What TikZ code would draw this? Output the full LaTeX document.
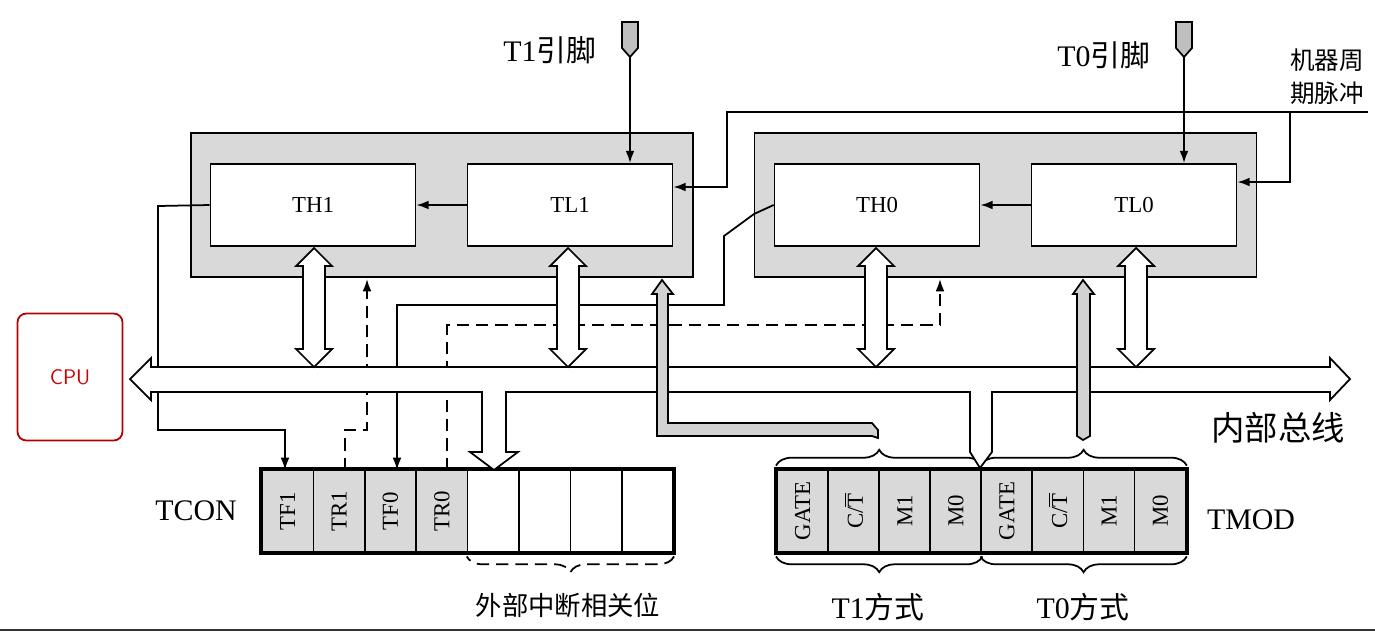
\documentclass[tikz,border=0pt]{standalone}
\usepackage{fontspec}
\setmainfont{Liberation Serif}
\newfontfamily\cjk{Noto Sans CJK SC}
\usetikzlibrary{arrows.meta,decorations.pathreplacing}

% hollow double arrow between two heights
\newcommand\dblarr[3]{\draw[fill=white] (#1-11,#2+18) -- (#1-18,#2+18) -- (#1,#2) -- (#1+18,#2+18) -- (#1+11,#2+18) -- (#1+11,#3-18) -- (#1+18,#3-18) -- (#1,#3) -- (#1-18,#3-18) -- (#1-11,#3-18) -- cycle;}

\begin{document}
\begin{tikzpicture}[x=0.02cm,y=-0.02cm,line width=1pt,
  reg/.style={draw,fill=white,minimum width=4.1cm,minimum height=1.64cm,inner sep=0pt,font=\fontsize{13}{13}\selectfont},
  blk/.style={draw,fill=gray!30,minimum width=10.04cm,minimum height=2.88cm,inner sep=0pt},
  cell/.style={draw,minimum width=1.028cm,minimum height=1.64cm,inner sep=0pt},
  bit/.style={rotate=90,font=\fontsize{13}{13}\selectfont},
  sig/.style={-{Latex[length=7pt,width=5pt]}},
  dsig/.style={sig,dash pattern=on 7pt off 4pt},
  lab/.style={font=\fontsize{17}{17}\selectfont}]
\useasboundingbox (0,0) rectangle (1375,633);
\fill[white] (0,0) rectangle (1375,633);
\draw[black!80,line width=1.5pt] (0,630) -- (1375,630);

% timer blocks
\node[blk] (T1box) at (442,205) {};
\node[blk] (T0box) at (1005.5,205) {};
\node[reg] (TH1) at (313,205) {TH1};
\node[reg] (TL1) at (570,205) {TL1};
\node[reg] (TH0) at (877,205) {TH0};
\node[reg] (TL0) at (1134,205) {TL0};
\draw[sig] (TL1) -- (TH1);
\draw[sig] (TL0) -- (TH0);

% pins
\draw[fill=gray!50] (622,22) -- (638,22) -- (638,48) -- (630,57) -- (622,48) -- cycle;
\draw[fill=gray!50] (1176,22) -- (1192,22) -- (1192,48) -- (1184,57) -- (1176,48) -- cycle;
\coordinate (p1) at (630,57);
\coordinate (p0) at (1184,57);
\draw[sig] (p1) -- (p1 |- TL1.north);
\draw[sig] (p0) -- (p0 |- TL0.north);
\node[lab,anchor=east] (p1lab) at (603,50) {T1{\cjk 引脚}};
\node[lab,anchor=east] (p0lab) at (1157,55) {T0{\cjk 引脚}};

% machine cycle
\node[align=center,font=\cjk\fontsize{14}{19}\selectfont] (mc) at (1327,77) {机器周\\期脉冲};
\coordinate (mcin) at (1368,112);
\draw[sig] (mcin) -- (727,112) -- (727,187) -- (TL1.east |- {(0,187)});
\draw[sig] (1290,112) -- (1290,182) -- (TL0.east |- {(0,182)});

% registers
\foreach \n [count=\i] in {TF1,TR1,TF0,TR0,,,,}{
  \pgfmathsetmacro\xx{262+51.4*(\i-0.5)}
  \ifnum\i<5 \node[cell,fill=gray!30] (c\i) at (\xx,511) {}; \node[bit] at (c\i) {\n};
  \else \node[cell,fill=white] (c\i) at (\xx,511) {}; \fi
}
\draw[line width=2.2pt] (c1.north west) rectangle (c8.south east);
\foreach \n [count=\i] in {GATE,C/$\overline{\mathrm{T}}$,M1,M0,GATE,C/$\overline{\mathrm{T}}$,M1,M0}{
  \pgfmathsetmacro\xx{777+51.1*(\i-0.5)}
  \node[cell,fill=gray!30] (m\i) at (\xx,511) {};
  \node[bit] at (m\i) {\n};
}
\draw[line width=2.2pt] (m1.north west) rectangle (m8.south east);
\node[lab] (tcon) at (196,511) {TCON};
\node[lab] (tmod) at (1251,520) {TMOD};

% braces
\draw[decorate,decoration={brace,amplitude=9pt}] ([yshift=2]m1.north west) -- ([yshift=2]m4.north east);
\draw[decorate,decoration={brace,amplitude=9pt}] ([yshift=2]m5.north west) -- ([yshift=2]m8.north east);
\draw[decorate,decoration={brace,amplitude=9pt}] ([yshift=-2]m4.south east) -- ([yshift=-2]m1.south west);
\draw[decorate,decoration={brace,amplitude=9pt}] ([yshift=-2]m8.south east) -- ([yshift=-2]m5.south west);
\draw[decorate,decoration={brace,amplitude=9pt},dash pattern=on 7pt off 4pt] ([yshift=-2]c8.south east) -- ([yshift=-2]c5.south west);
\node[lab] (m1lab) at (878,607) {T1{\cjk 方式}};
\node[lab] (m0lab) at (1083,607) {T0{\cjk 方式}};
\node[font=\cjk\fontsize{15}{15}\selectfont] (ext) at (568,605) {外部中断相关位};

% control lines
\draw[sig] (TH1.west) -- (158,206) -- (158,430) -- (285,430) -- (285,470);
\draw[dsig] (345,470) -- (345,430) -- (367,430) -- (367,279);
\draw[sig] (TH0.west) -- (754,214) -- (724,236) -- (724,305) -- (397,305) -- (397,470);
\draw[dsig] (447,470) -- (447,325) -- (940,325) -- (940,279);

% internal bus
\draw[fill=white] (130,379) -- (151,358) -- (151,367) -- (1330,367) -- (1330,358) -- (1350,379)
  -- (1330,400) -- (1330,392) -- (992,392) -- (992,452) -- (980,468) -- (970,452) -- (970,392)
  -- (506,392) -- (506,452) -- (518,452) -- (494,470) -- (470,452) -- (482,452) -- (482,392)
  -- (151,392) -- (151,400) -- cycle;
\node[font=\cjk\fontsize{19}{19}\selectfont] (bus) at (1278,428) {内部总线};

% data paths
\dblarr{314}{248}{367}
\dblarr{568}{248}{367}
\dblarr{876}{248}{367}
\dblarr{1136}{248}{367}
\draw[fill=gray!35] (652,294) -- (662,280) -- (673,294) -- (668,294) -- (668,423) -- (872,423)
  -- (878,430) -- (878,438) -- (872,436) -- (657,436) -- (657,294) -- cycle;
\draw[fill=gray!35] (1073,294) -- (1083,280) -- (1094,294) -- (1090,294) -- (1090,436) -- (1083,440) -- (1077,436)
  -- (1077,294) -- cycle;

% cpu
\node[draw=red!70!black,rounded corners=5pt,minimum width=2.1cm,minimum height=2.54cm,
  text=red!80!black,font=\sffamily\fontsize{12}{12}\selectfont] (cpu) at (70,377) {CPU};
\end{tikzpicture}
\end{document}
